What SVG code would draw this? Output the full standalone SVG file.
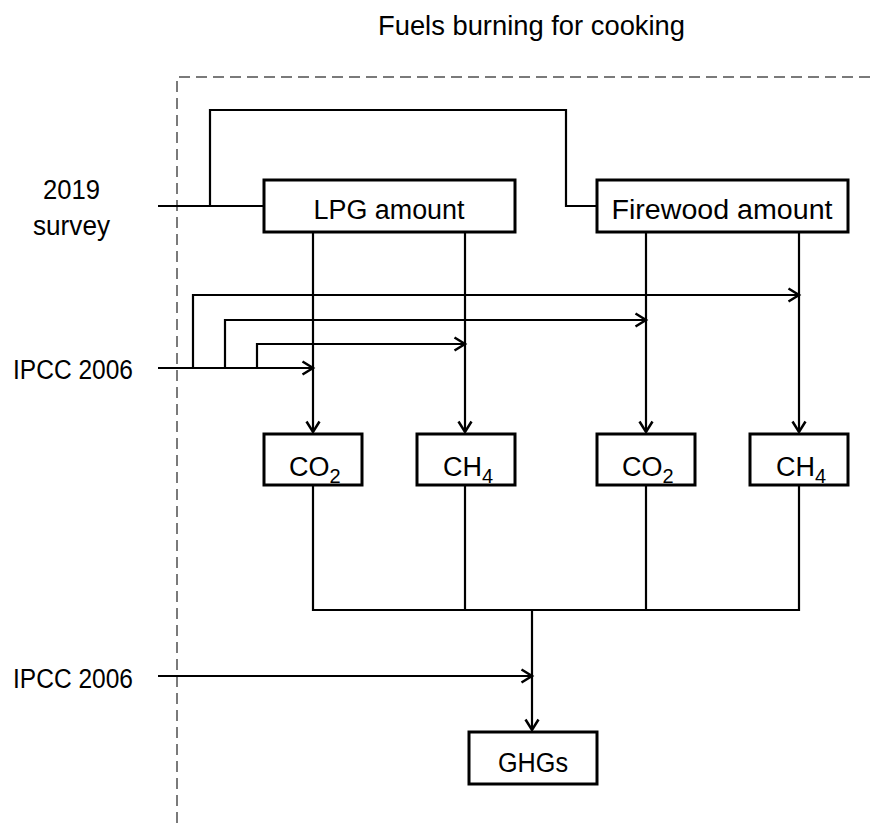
<svg xmlns="http://www.w3.org/2000/svg" width="870" height="823" viewBox="0 0 870 823">
<defs>
<marker id="arr" markerWidth="16" markerHeight="16" refX="12" refY="8" orient="auto" markerUnits="userSpaceOnUse">
<path d="M1.5,1.5 L12,8 L1.5,14.5" fill="none" stroke="#000" stroke-width="2.5"/>
</marker>
<style>
.t{font-family:"Liberation Sans",Arial,sans-serif;font-size:27px;fill:#000}
.sub{font-family:"Liberation Sans",Arial,sans-serif;font-size:20px;fill:#000}
.box{fill:#fff;stroke:#000;stroke-width:3}
.ln{fill:none;stroke:#000;stroke-width:2.2}
.frame{fill:none;stroke:#7a7a7a;stroke-width:2;stroke-dasharray:11 6}
</style>
</defs>
<rect width="870" height="823" fill="#fff"/>
<path class="frame" d="M177,823 V77 H870"/>
<text class="t" x="531.5" y="35" text-anchor="middle" textLength="307" lengthAdjust="spacingAndGlyphs">Fuels burning for cooking</text>
<g id="labels">
<text class="t" x="71.5" y="199" text-anchor="middle" textLength="57" lengthAdjust="spacingAndGlyphs">2019</text>
<text class="t" x="71.5" y="235" text-anchor="middle" textLength="77" lengthAdjust="spacingAndGlyphs">survey</text>
<text class="t" x="13" y="379" textLength="120" lengthAdjust="spacingAndGlyphs">IPCC 2006</text>
<text class="t" x="13" y="688" textLength="120" lengthAdjust="spacingAndGlyphs">IPCC 2006</text>
</g>
<g id="connectors">
<path class="ln" d="M158,206 H264"/>
<path class="ln" d="M210,206 V110 H566 V206 H597"/>
<path class="ln" d="M313,232 V432" marker-end="url(#arr)"/>
<path class="ln" d="M465,232 V432" marker-end="url(#arr)"/>
<path class="ln" d="M646,232 V432" marker-end="url(#arr)"/>
<path class="ln" d="M799,232 V432" marker-end="url(#arr)"/>
<path class="ln" d="M158,368 H313" marker-end="url(#arr)"/>
<path class="ln" d="M193,368 V295 H799" marker-end="url(#arr)"/>
<path class="ln" d="M225,368 V320 H646" marker-end="url(#arr)"/>
<path class="ln" d="M257,368 V344 H465" marker-end="url(#arr)"/>
<path class="ln" d="M313,485 V610 H799 V485"/>
<path class="ln" d="M465,485 V610"/>
<path class="ln" d="M646,485 V610"/>
<path class="ln" d="M532,610 V730" marker-end="url(#arr)"/>
<path class="ln" d="M158,676 H532" marker-end="url(#arr)"/>
</g>
<g id="lpg">
<rect class="box" x="264" y="180" width="251" height="52"/>
<text class="t" x="389" y="219" text-anchor="middle" textLength="151" lengthAdjust="spacingAndGlyphs">LPG amount</text>
</g>
<g id="firewood">
<rect class="box" x="597" y="180" width="251" height="52"/>
<text class="t" x="722" y="219" text-anchor="middle" textLength="221" lengthAdjust="spacingAndGlyphs">Firewood amount</text>
</g>
<g id="co2-lpg">
<rect class="box" x="264" y="434" width="98" height="51"/>
<text class="t" x="289" y="476">CO<tspan class="sub" dy="7">2</tspan></text>
</g>
<g id="ch4-lpg">
<rect class="box" x="417" y="434" width="98" height="51"/>
<text class="t" x="443" y="476">CH<tspan class="sub" dy="7">4</tspan></text>
</g>
<g id="co2-fw">
<rect class="box" x="597" y="434" width="98" height="51"/>
<text class="t" x="622" y="476">CO<tspan class="sub" dy="7">2</tspan></text>
</g>
<g id="ch4-fw">
<rect class="box" x="750" y="434" width="98" height="51"/>
<text class="t" x="776" y="476">CH<tspan class="sub" dy="7">4</tspan></text>
</g>
<g id="ghgs">
<rect class="box" x="469" y="732" width="128" height="52"/>
<text class="t" x="533" y="772" text-anchor="middle" textLength="70" lengthAdjust="spacingAndGlyphs">GHGs</text>
</g>
</svg>
